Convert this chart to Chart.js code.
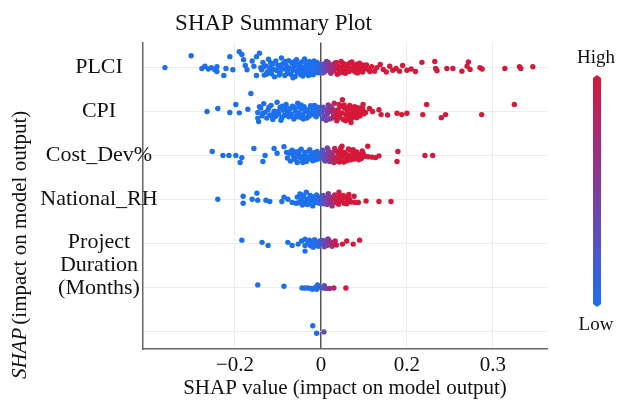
<!DOCTYPE html>
<html lang="en">
  <head>
    <meta charset="UTF-8" />
    <title>SHAP Summary Plot</title>
    <script src="https://cdn.jsdelivr.net/npm/chart.js"></script>
    <style>
      body {
        margin: 0;
        background: #ffffff;
      }
      #chart {
        display: block;
      }
    </style>
  </head>
  <body>
    <canvas id="chart" width="618" height="405"></canvas>

    <script>
      // feature labels and the row they sit on (the long label spans two rows)
      const features = ["PLCI", "CPI", "Cost_Dev%", "National_RH", ["Project", "Duration", "(Months)"]];
      const featureRows = [0, 1, 2, 3, 4.5];
      const gridRows = [0, 1, 2, 3, 4, 5, 6];

      const xTickValues = [-0.2, 0, 0.2, 0.4];
      const xTickLabels = ["\u22120.2", "0", "0.2", "0.3"];

      // [shap value, vertical spread inside the row]
      const plciPoints = [
        [-0.363, 0.0], [-0.302, -0.27], [-0.277, 0.02], [-0.27, -0.03], [-0.262, 0.03], [-0.255, 0.0],
        [-0.247, 0.05], [-0.242, -0.02], [-0.242, 0.09], [-0.226, 0.18], [-0.212, -0.25], [-0.221, 0.02],
        [-0.205, 0.05], [-0.19, -0.36], [-0.184, -0.3], [-0.18, -0.18], [-0.176, -0.05], [-0.172, 0.05],
        [-0.16, -0.15], [-0.156, -0.03], [-0.15, -0.25], [-0.15, 0.18], [-0.143, -0.33], [-0.14, 0.0],
        [-0.138, 0.05], [-0.135, -0.12], [-0.132, 0.17], [-0.128, -0.04], [-0.125, 0.1], [-0.122, -0.19],
        [-0.118, 0.0], [-0.115, 0.14], [-0.112, -0.08], [-0.108, 0.21], [-0.105, -0.15], [-0.102, 0.07],
        [-0.098, -0.02], [-0.095, 0.12], [-0.092, -0.22], [-0.09, 0.03], [-0.087, -0.1], [-0.084, 0.18],
        [-0.081, -0.05], [-0.078, 0.09], [-0.075, -0.16], [-0.073, 0.01], [-0.07, 0.15], [-0.068, -0.11],
        [-0.065, 0.06], [-0.065, 0.23], [-0.062, -0.03], [-0.06, 0.2], [-0.057, -0.18], [-0.055, 0.11],
        [-0.052, -0.07], [-0.05, 0.02], [-0.047, 0.16], [-0.045, -0.13], [-0.043, 0.08], [-0.04, -0.01],
        [-0.038, -0.2], [-0.036, 0.13], [-0.034, -0.06], [-0.031, 0.04], [-0.029, 0.18], [-0.027, -0.14],
        [-0.025, 0.09], [-0.023, -0.03], [-0.021, 0.14], [-0.019, -0.1], [-0.017, 0.02], [-0.015, 0.07],
        [-0.013, -0.05], [-0.011, 0.11], [-0.009, -0.12], [-0.007, 0.0], [-0.005, 0.05], [-0.003, -0.07],
        [-0.12, 0.06], [-0.1, -0.05], [-0.08, 0.04], [-0.058, -0.09], [-0.035, 0.06], [-0.016, -0.15],
        [-0.133, -0.02], [-0.127, 0.15], [-0.117, -0.11], [-0.11, 0.04], [-0.097, 0.17], [-0.093, -0.06],
        [-0.083, -0.14], [-0.077, 0.13], [-0.067, 0.01], [-0.061, -0.14], [-0.054, 0.06], [-0.048, -0.04],
        [-0.042, 0.19], [-0.033, -0.11], [-0.028, 0.07], [-0.022, -0.07], [-0.018, 0.16], [-0.012, 0.03],
        [-0.008, -0.03], [-0.004, 0.12],
        [0.002, 0.03], [0.005, -0.08], [0.008, 0.1], [0.011, -0.02], [0.014, 0.06], [0.017, -0.12],
        [0.02, 0.01], [0.023, 0.13], [0.026, -0.05], [0.029, 0.08], [0.032, -0.1], [0.035, 0.03],
        [0.038, 0.15], [0.041, -0.03], [0.044, 0.07], [0.047, -0.14], [0.05, 0.0], [0.053, 0.11],
        [0.056, -0.07], [0.059, 0.04], [0.062, -0.01], [0.065, 0.09], [0.068, -0.11], [0.071, 0.02],
        [0.074, 0.06], [0.077, -0.04], [0.08, 0.1], [0.083, -0.08], [0.086, 0.01], [0.089, 0.05],
        [0.092, -0.02], [0.095, 0.08], [0.098, -0.06], [0.101, 0.03], [0.104, 0.0], [0.11, 0.05],
        [0.018, 0.06], [0.033, -0.04], [0.048, 0.07], [0.063, -0.07], [0.078, 0.03],
        [0.004, 0.12], [0.009, -0.04], [0.013, -0.14], [0.021, -0.07], [0.027, 0.04], [0.036, -0.12],
        [0.043, 0.12], [0.052, -0.09], [0.057, 0.13], [0.066, 0.0], [0.072, -0.13], [0.085, 0.12],
        [0.09, -0.1], [0.097, 0.1], [0.106, -0.06], [0.114, 0.09],
        [0.118, -0.02], [0.125, 0.08], [0.13, 0.0], [0.138, -0.07], [0.145, 0.04], [0.152, 0.1],
        [0.16, -0.03], [0.167, 0.06], [0.175, 0.02], [0.183, 0.08], [0.19, -0.05], [0.2, 0.06],
        [0.21, 0.03], [0.22, 0.09], [0.235, -0.12], [0.265, -0.14], [0.267, 0.02], [0.27, 0.07],
        [0.293, 0.02], [0.307, 0.02], [0.328, 0.08], [0.34, -0.03], [0.343, -0.13], [0.347, 0.04],
        [0.37, 0.0], [0.375, 0.03], [0.428, 0.02], [0.462, -0.02], [0.465, 0.02], [0.493, -0.02]
      ];

      const cpiPoints = [
        [-0.265, 0.0], [-0.24, -0.07], [-0.212, 0.02], [-0.198, -0.16], [-0.19, 0.03], [-0.17, -0.05],
        [-0.163, -0.41], [-0.147, 0.02], [-0.147, 0.15], [-0.145, 0.23], [-0.143, -0.11],
        [-0.14, -0.08], [-0.137, 0.1], [-0.133, -0.18], [-0.13, 0.02], [-0.126, 0.15], [-0.123, -0.04],
        [-0.119, 0.08], [-0.116, -0.14], [-0.112, 0.18], [-0.109, -0.01], [-0.105, 0.11], [-0.102, -0.21],
        [-0.098, 0.05], [-0.095, -0.09], [-0.091, 0.14], [-0.088, -0.03], [-0.085, 0.09], [-0.081, -0.16],
        [-0.078, 0.01], [-0.075, 0.12], [-0.072, -0.07], [-0.069, 0.06], [-0.066, -0.12], [-0.063, 0.17],
        [-0.06, -0.02], [-0.057, 0.09], [-0.054, -0.19], [-0.051, 0.03], [-0.048, 0.13], [-0.045, -0.06],
        [-0.042, 0.07], [-0.039, -0.11], [-0.036, 0.0], [-0.033, 0.15], [-0.03, -0.04], [-0.027, 0.1],
        [-0.024, -0.13], [-0.021, 0.04], [-0.018, -0.02], [-0.015, 0.08], [-0.012, -0.08], [-0.009, 0.02],
        [-0.006, 0.06], [-0.004, -0.04], [-0.11, 0.05], [-0.09, -0.12], [-0.07, 0.1], [-0.05, -0.1],
        [-0.03, 0.12], [-0.015, -0.14],
        [-0.135, 0.04], [-0.121, -0.1], [-0.114, 0.1], [-0.1, 0.0], [-0.093, 0.2], [-0.083, -0.08],
        [-0.074, 0.04], [-0.062, -0.09], [-0.056, 0.12], [-0.046, -0.15], [-0.041, 0.17], [-0.035, -0.03],
        [-0.026, 0.05], [-0.02, -0.09], [-0.011, 0.12], [-0.007, -0.1],
        [0.002, 0.02], [0.005, -0.1], [0.008, 0.12], [0.011, -0.03], [0.014, 0.07], [0.017, -0.15],
        [0.02, 0.17], [0.023, 0.0], [0.026, -0.07], [0.029, 0.1], [0.031, -0.19], [0.034, 0.05],
        [0.037, 0.21], [0.04, -0.04], [0.043, 0.13], [0.046, -0.12], [0.049, 0.03], [0.052, 0.18],
        [0.055, -0.08], [0.058, 0.08], [0.061, -0.01], [0.064, 0.14], [0.067, -0.14], [0.07, 0.05],
        [0.073, -0.05], [0.076, 0.11], [0.079, 0.01], [0.082, -0.09], [0.085, 0.07], [0.088, -0.02],
        [0.091, 0.1], [0.094, 0.03], [0.097, -0.06], [0.1, 0.05], [0.012, 0.2], [0.027, 0.15],
        [0.042, -0.16], [0.057, 0.21], [0.072, 0.15], [0.018, -0.05], [0.038, 0.08], [0.062, -0.06],
        [0.004, 0.16], [0.007, -0.05], [0.016, 0.03], [0.022, -0.11], [0.033, -0.02], [0.039, 0.16],
        [0.045, 0.06], [0.054, -0.15], [0.063, 0.06], [0.068, 0.2], [0.078, -0.11], [0.083, 0.14],
        [0.09, -0.08], [0.104, 0.02],
        [0.05, -0.27], [0.07, 0.25], [0.098, -0.16], [0.113, -0.07], [0.12, 0.0], [0.135, -0.04],
        [0.14, 0.07], [0.155, 0.08], [0.177, 0.04], [0.188, 0.07], [0.2, 0.04], [0.237, 0.07],
        [0.246, -0.16], [0.28, 0.14], [0.29, 0.07], [0.374, 0.07], [0.45, -0.16]
      ];

      const costDevPoints = [
        [-0.253, -0.09], [-0.228, 0.0], [-0.214, 0.0], [-0.198, 0.0], [-0.184, 0.05], [-0.188, 0.16],
        [-0.156, -0.16], [-0.13, 0.0], [-0.135, 0.14], [-0.109, -0.16], [-0.102, -0.05], [-0.086, -0.2],
        [-0.08, -0.07],
        [-0.078, 0.06], [-0.074, -0.05], [-0.071, 0.13], [-0.067, -0.12], [-0.064, 0.02], [-0.061, 0.09],
        [-0.058, -0.08], [-0.055, 0.16], [-0.052, -0.02], [-0.049, 0.05], [-0.046, -0.14], [-0.043, 0.11],
        [-0.042, 0.16], [-0.04, 0.0], [-0.037, -0.07], [-0.034, 0.14], [-0.031, 0.03], [-0.028, -0.1],
        [-0.025, 0.08], [-0.022, -0.03], [-0.019, 0.12], [-0.016, -0.06], [-0.013, 0.04], [-0.01, -0.01],
        [-0.007, 0.08], [-0.004, -0.04], [-0.065, -0.03], [-0.045, 0.04], [-0.026, -0.13], [-0.012, 0.1],
        [-0.07, -0.09], [-0.06, 0.05], [-0.05, -0.1], [-0.036, 0.08], [-0.02, 0.01], [-0.009, -0.09],
        [0.002, 0.03], [0.005, -0.07], [0.008, 0.1], [0.011, -0.02], [0.014, 0.06], [0.017, -0.12],
        [0.02, 0.14], [0.023, 0.0], [0.026, -0.06], [0.029, 0.09], [0.032, -0.16], [0.035, 0.04],
        [0.038, 0.13], [0.041, -0.04], [0.044, 0.07], [0.047, -0.1], [0.05, 0.02], [0.053, 0.15],
        [0.056, -0.07], [0.059, 0.06], [0.062, -0.01], [0.065, 0.1], [0.068, -0.12], [0.071, 0.03],
        [0.074, -0.04], [0.077, 0.08], [0.08, 0.0], [0.083, -0.08], [0.086, 0.05], [0.09, -0.02],
        [0.094, 0.07], [0.098, -0.05], [0.102, 0.02], [0.015, -0.17], [0.03, 0.16], [0.046, -0.17],
        [0.06, 0.12], [0.075, -0.13], [0.024, 0.05], [0.052, -0.03],
        [0.004, -0.12], [0.01, 0.13], [0.019, -0.05], [0.028, 0.02], [0.037, -0.09], [0.043, 0.15],
        [0.055, 0.05], [0.064, -0.15], [0.07, 0.1], [0.079, -0.02], [0.088, 0.1], [0.096, -0.1],
        [0.049, -0.21], [0.109, -0.21], [0.098, 0.0], [0.11, 0.03], [0.119, 0.04], [0.127, 0.05],
        [0.135, 0.01], [0.179, -0.09], [0.177, 0.14], [0.242, 0.0], [0.26, 0.0]
      ];

      const nationalRhPoints = [
        [-0.24, 0.0], [-0.181, -0.07], [-0.181, 0.09], [-0.16, 0.0], [-0.149, -0.14], [-0.147, 0.02],
        [-0.128, 0.02], [-0.119, 0.05], [-0.091, 0.05], [-0.086, -0.05], [-0.077, 0.0], [-0.067, 0.07],
        [-0.058, 0.09],
        [-0.055, -0.05], [-0.052, 0.08], [-0.049, -0.12], [-0.046, 0.02], [-0.043, 0.13], [-0.04, -0.06],
        [-0.037, 0.06], [-0.034, -0.16], [-0.031, 0.0], [-0.028, 0.1], [-0.025, -0.09], [-0.022, 0.04],
        [-0.019, 0.15], [-0.016, -0.03], [-0.013, 0.07], [-0.01, -0.1], [-0.007, 0.02], [-0.004, 0.09],
        [-0.003, -0.04], [-0.045, -0.1], [-0.032, 0.12], [-0.02, -0.06], [-0.008, 0.06],
        [0.002, 0.0], [0.005, -0.09], [0.008, 0.08], [0.011, -0.03], [0.014, 0.12], [0.017, -0.13],
        [0.02, 0.04], [0.023, -0.05], [0.026, 0.15], [0.029, 0.0], [0.032, -0.1], [0.035, 0.07],
        [0.038, -0.02], [0.041, 0.11], [0.044, -0.07], [0.047, 0.03], [0.05, -0.01], [0.054, 0.09],
        [0.058, -0.05], [0.062, 0.04], [0.066, 0.0], [0.07, 0.06],
        [0.006, 0.1], [0.015, -0.02], [0.024, 0.1], [0.033, -0.04], [0.04, 0.04], [0.052, -0.09], [0.06, 0.1],
        [0.042, -0.16], [0.065, -0.11], [0.077, -0.07], [0.079, 0.07], [0.087, 0.07], [0.105, 0.04],
        [0.135, 0.05], [0.163, 0.05]
      ];

      const projectDurationPoints = [
        [-0.184, -0.07], [-0.137, -0.02], [-0.123, 0.05], [-0.077, -0.02], [-0.067, 0.05], [-0.053, 0.02],
        [-0.045, -0.05], [-0.037, -0.09], [-0.037, 0.05], [-0.037, 0.18],
        [-0.03, 0.0], [-0.027, -0.07], [-0.024, 0.06], [-0.021, -0.03], [-0.018, 0.09], [-0.015, -0.08],
        [-0.012, 0.03], [-0.009, -0.02], [-0.006, 0.07], [-0.003, -0.05],
        [0.002, 0.02], [0.005, -0.06], [0.008, 0.08], [0.011, -0.02], [0.014, 0.05], [0.017, -0.09],
        [0.02, 0.03], [0.023, -0.03], [0.026, 0.07], [0.029, 0.0], [0.033, -0.05], [0.036, 0.04],
        [0.016, -0.09], [0.05, 0.02], [0.06, -0.05], [0.075, 0.02], [0.09, -0.07]
      ];

      const sixthRowPoints = [
        [-0.147, -0.05], [-0.086, -0.02], [-0.044, 0.02], [-0.037, 0.02], [-0.03, 0.02], [-0.023, 0.03],
        [-0.02, 0.05], [-0.016, 0.03], [-0.012, 0.0], [-0.01, 0.05], [-0.008, -0.05], [-0.004, 0.0],
        [0.004, 0.02], [0.008, -0.03], [0.012, 0.03], [0.02, 0.03], [0.03, 0.02], [0.058, 0.02]
      ];

      const seventhRowPoints = [[-0.019, -0.12], [-0.01, 0.05], [0.007, 0.02]];

      const rowPoints = [
        plciPoints, cpiPoints, costDevPoints, nationalRhPoints,
        projectDurationPoints, sixthRowPoints, seventhRowPoints
      ];

      const serif = "'Liberation Serif', 'Times New Roman', serif";
      const blue = [28, 112, 238];
      const purple = [128, 60, 160];
      const red = [214, 24, 58];

      function mix(a, b, t) {
        return a.map((c, i) => Math.round(c + (b[i] - c) * t));
      }

      function pointColor(v) {
        let t = (v + 0.01) / 0.05;
        t = Math.max(0, Math.min(1, t));
        const c = t < 0.5 ? mix(blue, purple, t * 2) : mix(purple, red, (t - 0.5) * 2);
        return "rgb(" + c.join(",") + ")";
      }

      // feature names, colour bar and the rotated axis label with italic SHAP
      const extras = {
        id: "extras",
        afterDraw(chart) {
          const ctx = chart.ctx;
          const yScale = chart.scales.y;
          ctx.save();
          ctx.fillStyle = "#111";
          ctx.textAlign = "center";
          ctx.textBaseline = "middle";
          ctx.font = "22px " + serif;
          features.forEach((name, i) => {
            const lines = Array.isArray(name) ? name : [name];
            const yc = yScale.getPixelForValue(featureRows[i]);
            lines.forEach((line, j) => {
              ctx.fillText(line, 99, yc + (j - (lines.length - 1) / 2) * 23);
            });
          });

          const x0 = 593, x1 = 601, xc = 597, top = 75, bottom = 307;
          const grad = ctx.createLinearGradient(0, top, 0, bottom);
          grad.addColorStop(0, "rgb(" + red.join(",") + ")");
          grad.addColorStop(0.5, "rgb(" + purple.join(",") + ")");
          grad.addColorStop(1, "rgb(" + blue.join(",") + ")");
          ctx.fillStyle = grad;
          ctx.beginPath();
          ctx.moveTo(x0, top + 3);
          ctx.lineTo(xc, top);
          ctx.lineTo(x1, top + 3);
          ctx.lineTo(x1, bottom - 3);
          ctx.lineTo(xc, bottom);
          ctx.lineTo(x0, bottom - 3);
          ctx.closePath();
          ctx.fill();

          ctx.fillStyle = "#111";
          ctx.font = "19px " + serif;
          ctx.fillText("High", 596, 58);
          ctx.fillText("Low", 596, 325);

          ctx.translate(20, 379);
          ctx.rotate(-Math.PI / 2);
          ctx.textAlign = "left";
          ctx.font = "italic 21px " + serif;
          ctx.fillText("SHAP", 0, 0);
          const w = ctx.measureText("SHAP").width;
          ctx.font = "21px " + serif;
          ctx.fillText("(impact on model output)", w + 3, 0);
          ctx.restore();
        },
      };

      function initialize() {
        Chart.defaults.font.family = serif;
        Chart.defaults.color = "#111";

        const datasets = rowPoints.map((pts, row) => ({
          data: pts.map((p) => ({ x: p[0], y: row + p[1] })),
          pointRadius: 2.7,
          pointHoverRadius: 2.7,
          borderWidth: 0,
          backgroundColor: (c) => pointColor(c.raw ? c.raw.x : 0),
        }));

        new Chart(document.getElementById("chart"), {
          type: "scatter",
          data: { datasets: datasets },
          options: {
            responsive: false,
            animation: false,
            devicePixelRatio: 1,
            layout: { padding: { left: 0, right: 71, top: 0, bottom: 0 } },
            plugins: {
              legend: { display: false },
              tooltip: { enabled: false },
              title: {
                display: true,
                text: "SHAP Summary Plot",
                font: { size: 23, weight: "normal", family: serif },
                color: "#111",
                padding: { top: 10, bottom: 5 },
              },
            },
            scales: {
              x: {
                type: "linear",
                min: -0.414,
                max: 0.526,
                afterBuildTicks: (scale) => {
                  scale.ticks = xTickValues.map((v) => ({ value: v }));
                },
                afterFit: (scale) => {
                  scale.height = 56;
                },
                ticks: {
                  autoSkip: false,
                  maxRotation: 0,
                  font: { size: 21 },
                  color: "#111",
                  padding: 4,
                  callback: (value) => {
                    const i = xTickValues.indexOf(value);
                    return i >= 0 ? xTickLabels[i] : "";
                  },
                },
                grid: {
                  drawTicks: false,
                  color: (c) => (c.tick && c.tick.value === 0 ? "#555" : "#ececec"),
                  lineWidth: (c) => (c.tick && c.tick.value === 0 ? 1.5 : 1),
                },
                border: { display: true, color: "#666", width: 1.5 },
                title: {
                  display: true,
                  text: "SHAP value (impact on model output)",
                  font: { size: 21 },
                  color: "#111",
                  padding: { top: 0, bottom: 4 },
                },
              },
              y: {
                type: "linear",
                reverse: true,
                min: -0.57,
                max: 6.41,
                afterBuildTicks: (scale) => {
                  scale.ticks = gridRows.map((v) => ({ value: v }));
                },
                afterFit: (scale) => {
                  scale.width = 143;
                },
                ticks: { display: false },
                grid: { drawTicks: false, color: "#ececec" },
                border: { display: true, color: "#666", width: 1.5 },
              },
            },
          },
          plugins: [extras],
        });
      }

      document.addEventListener("DOMContentLoaded", initialize);
    </script>
  </body>
</html>
